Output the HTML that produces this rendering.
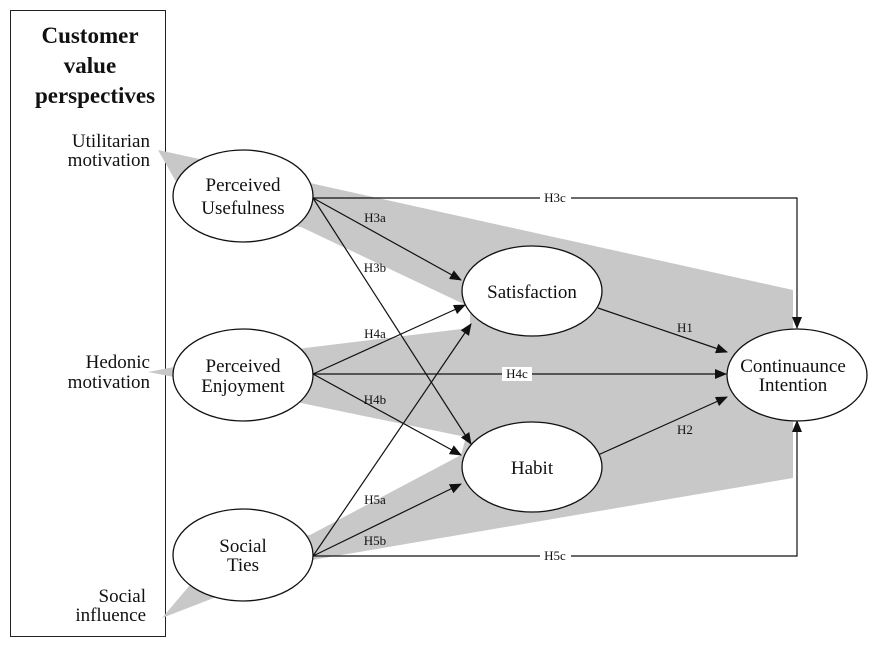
<!DOCTYPE html>
<html><head><meta charset="utf-8"><style>
html,body{margin:0;padding:0;background:#fff;}
svg text{font-family:"Liberation Serif",serif;fill:#111;}
</style></head><body>
<svg width="872" height="648" viewBox="0 0 872 648" xmlns="http://www.w3.org/2000/svg">
<defs><marker id="a" markerWidth="12" markerHeight="10" refX="11" refY="5" orient="auto" markerUnits="userSpaceOnUse"><path d="M0,0 L12,5 L0,10 z" fill="#111"/></marker></defs>
<rect x="10.5" y="10.5" width="155" height="626" fill="#fff" stroke="#222" stroke-width="1"/>
<g font-size="23" font-weight="bold" text-anchor="middle">
<text x="90" y="43">Customer</text><text x="90" y="73">value</text><text x="95" y="103">perspectives</text></g>
<g font-size="19" text-anchor="end">
<text x="150" y="147">Utilitarian</text><text x="150" y="166">motivation</text>
<text x="150" y="368">Hedonic</text><text x="150" y="388">motivation</text>
<text x="146" y="602">Social</text><text x="146" y="621">influence</text></g>
<polygon points="158,150 310,183 793,290 793,478 312,560 162,618 190,585 200,560 200,382 148,372 200,362 200,200 175,180" fill="#c8c8c8"/>
<polygon points="170,215 301,227 470,307 470,328 305,348 200,366 170,366" fill="#fff"/>
<polygon points="170,388 200,388 301,403 466,437 461,455 310,535 170,545" fill="#fff"/>
<g stroke="#111" stroke-width="1.2" fill="none">
<polyline points="313,198 797,198 797,328" marker-end="url(#a)"/>
<line x1="313" y1="198" x2="461" y2="280" marker-end="url(#a)"/>
<line x1="313" y1="198" x2="471" y2="444" marker-end="url(#a)"/>
<line x1="313" y1="374" x2="465" y2="305" marker-end="url(#a)"/>
<line x1="313" y1="374" x2="726" y2="374" marker-end="url(#a)"/>
<line x1="313" y1="374" x2="461" y2="455" marker-end="url(#a)"/>
<line x1="313" y1="556" x2="471" y2="324" marker-end="url(#a)"/>
<line x1="313" y1="556" x2="461" y2="484" marker-end="url(#a)"/>
<polyline points="313,556 797,556 797,421" marker-end="url(#a)"/>
<line x1="598" y1="308" x2="727" y2="352" marker-end="url(#a)"/>
<line x1="598" y1="455" x2="727" y2="397" marker-end="url(#a)"/>
</g>
<g font-size="13" text-anchor="middle">
<rect x="540" y="191" width="31" height="14" fill="#fff"/><text x="555" y="202">H3c</text>
<text x="375" y="222">H3a</text><text x="375" y="272">H3b</text>
<text x="375" y="338">H4a</text>
<rect x="502" y="367" width="30" height="14" fill="#fff"/><text x="517" y="378">H4c</text>
<text x="375" y="404">H4b</text><text x="375" y="504">H5a</text><text x="375" y="545">H5b</text>
<rect x="540" y="549" width="31" height="14" fill="#fff"/><text x="555" y="560">H5c</text>
<text x="685" y="332">H1</text><text x="685" y="434">H2</text></g>
<g fill="#fff" stroke="#111" stroke-width="1.3">
<ellipse cx="243" cy="196" rx="70" ry="46"/><ellipse cx="243" cy="375" rx="70" ry="46"/><ellipse cx="243" cy="555" rx="70" ry="46"/>
<ellipse cx="532" cy="291" rx="70" ry="45"/><ellipse cx="532" cy="467" rx="70" ry="45"/><ellipse cx="797" cy="375" rx="70" ry="46"/></g>
<g font-size="19" text-anchor="middle">
<text x="243" y="191">Perceived</text><text x="243" y="214">Usefulness</text>
<text x="243" y="372">Perceived</text><text x="243" y="392">Enjoyment</text>
<text x="243" y="552">Social</text><text x="243" y="571">Ties</text>
<text x="532" y="298">Satisfaction</text><text x="532" y="474">Habit</text>
<text x="793" y="372">Continuaunce</text><text x="793" y="391">Intention</text></g>
</svg>
</body></html>
